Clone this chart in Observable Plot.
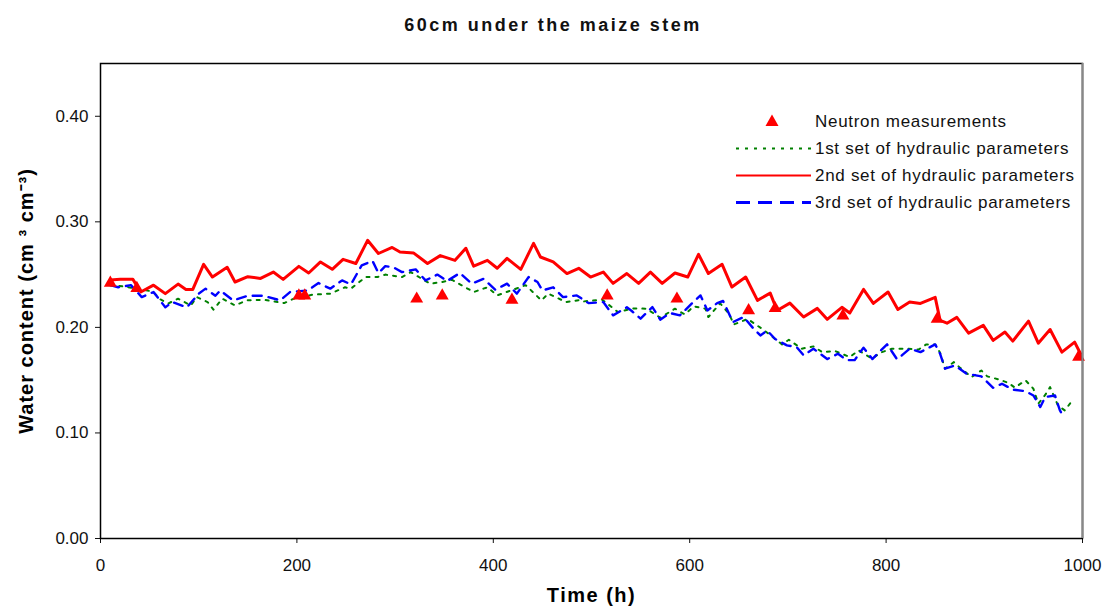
<!DOCTYPE html>
<html><head><meta charset="utf-8">
<script src="https://cdn.jsdelivr.net/npm/d3@7"></script>
<script src="https://cdn.jsdelivr.net/npm/@observablehq/plot@0.6"></script>
<style>
body{margin:0;background:#fff;font-family:Arial,"Liberation Sans",sans-serif;}
#wrap{position:relative;width:1106px;height:612px;overflow:hidden;}
#title{height:50px;line-height:50px;text-align:center;font-weight:bold;font-size:18px;letter-spacing:2.5px;color:#111;}
#legend{position:absolute;left:730px;top:108px;font-size:17px;color:#111;letter-spacing:0.7px;}
#legend .row{position:relative;height:27px;line-height:27px;white-space:nowrap;}
#legend svg{position:absolute;left:0;top:0;}
#legend span{position:absolute;left:85px;top:0;}
g[aria-label="y-axis label"] text{font-weight:bold;font-size:20px;letter-spacing:1px;fill:#000;}
g[aria-label="x-axis label"] text{font-weight:bold;font-size:20px;letter-spacing:1.5px;fill:#000;}
g[aria-label="y-axis tick label"] text, g[aria-label="x-axis tick label"] text{fill:#111;}
</style></head>
<body><div id="wrap"><div id="title">60cm under the maize stem</div><div id="chart"></div>
<div id="legend">
 <div class="row"><svg width="80" height="27"><path d="M42,6.5 L48.5,18 L35.5,18 Z" fill="#ff0000"/></svg><span>Neutron measurements</span></div>
 <div class="row"><svg width="85" height="27"><line x1="6" x2="81" y1="13.5" y2="13.5" stroke="#008000" stroke-width="2" stroke-dasharray="3,6"/></svg><span>1st set of hydraulic parameters</span></div>
 <div class="row"><svg width="85" height="27"><line x1="6" x2="81" y1="13.5" y2="13.5" stroke="#ff0000" stroke-width="2"/></svg><span>2nd set of hydraulic parameters</span></div>
 <div class="row"><svg width="85" height="27"><line x1="6" x2="81" y1="13.5" y2="13.5" stroke="#0000ff" stroke-width="3" stroke-dasharray="14,8"/></svg><span>3rd set of hydraulic parameters</span></div>
</div>
</div>
<script>
// Neutron measurements
const neutronT = [10, 37, 202, 208, 322, 348, 419, 516, 587, 660, 687, 756, 852, 996];
const neutronV = [0.242, 0.237, 0.230, 0.230, 0.227, 0.230, 0.226, 0.230, 0.227, 0.216, 0.218, 0.211, 0.208, 0.172];

// 2nd set of hydraulic parameters (red)
const redT = [10, 20, 33, 41, 54, 66, 79, 87, 94, 105, 114, 129, 137, 150, 163, 176, 186, 202, 212, 224, 236, 247, 260, 272, 283, 297, 305, 319, 333, 346, 361, 372, 380, 394, 404, 414, 428, 441, 448, 461, 475, 487, 499, 512, 522, 536, 548, 560, 572, 585, 598, 609, 619, 633, 643, 657, 669, 682, 689, 702, 716, 730, 740, 755, 763, 777, 787, 802, 812, 824, 835, 850, 855, 862, 872, 884, 899, 909, 921, 929, 945, 955, 967, 979, 992, 998];
const redV = [0.245, 0.2455, 0.2455, 0.2335, 0.240, 0.232, 0.241, 0.236, 0.236, 0.2597, 0.2477, 0.2569, 0.243, 0.248, 0.2464, 0.2524, 0.2455, 0.2578, 0.2515, 0.262, 0.255, 0.2645, 0.2605, 0.2825, 0.270, 0.2757, 0.2714, 0.2704, 0.2605, 0.268, 0.2635, 0.275, 0.258, 0.2635, 0.256, 0.2654, 0.255, 0.2796, 0.2667, 0.262, 0.251, 0.256, 0.2477, 0.2524, 0.2417, 0.251, 0.2417, 0.2524, 0.2417, 0.2515, 0.2477, 0.2692, 0.251, 0.2597, 0.2382, 0.2477, 0.2256, 0.2325, 0.216, 0.223, 0.2098, 0.218, 0.2076, 0.219, 0.2136, 0.236, 0.2227, 0.2335, 0.217, 0.224, 0.2227, 0.2284, 0.2066, 0.204, 0.2095, 0.1946, 0.2019, 0.1877, 0.1956, 0.187, 0.206, 0.185, 0.198, 0.1766, 0.186, 0.175];

// 3rd set of hydraulic parameters (blue)
const blueT = [10, 18, 31, 42, 54, 66, 73, 88, 100, 107, 117, 122, 135, 150, 166, 183, 193, 211, 222, 234, 246, 255, 266, 277, 283, 290, 298, 307, 321, 331, 343, 353, 366, 378, 390, 402, 414, 424, 436, 445, 450, 461, 471, 485, 497, 512, 522, 536, 541, 550, 562, 570, 580, 590, 602, 611, 618, 628, 634, 644, 655, 665, 672, 679, 687, 699, 709, 716, 726, 740, 751, 760, 768, 777, 786, 792, 801, 811, 816, 824, 835, 850, 855, 860, 870, 882, 897, 909, 918, 929, 942, 950, 957, 962, 972, 977, 980];
const blueV = [0.240, 0.238, 0.240, 0.2287, 0.2335, 0.219, 0.224, 0.219, 0.232, 0.2367, 0.230, 0.235, 0.2256, 0.230, 0.230, 0.2256, 0.2335, 0.235, 0.242, 0.2367, 0.2445, 0.2407, 0.2588, 0.263, 0.2515, 0.258, 0.257, 0.2524, 0.255, 0.2445, 0.250, 0.244, 0.2515, 0.2414, 0.246, 0.2357, 0.2414, 0.232, 0.2477, 0.243, 0.235, 0.238, 0.2287, 0.2303, 0.223, 0.224, 0.2114, 0.219, 0.2155, 0.2083, 0.2193, 0.2073, 0.2136, 0.2114, 0.2225, 0.2303, 0.216, 0.223, 0.225, 0.205, 0.2098, 0.1988, 0.1924, 0.197, 0.189, 0.183, 0.1813, 0.1735, 0.1798, 0.170, 0.175, 0.169, 0.169, 0.1808, 0.170, 0.1757, 0.1839, 0.170, 0.1735, 0.1798, 0.1766, 0.1839, 0.175, 0.1609, 0.164, 0.156, 0.1536, 0.1428, 0.1466, 0.141, 0.1396, 0.1355, 0.1245, 0.134, 0.1355, 0.1213, 0.1166];

// 1st set of hydraulic parameters (green)
const greenT = [10, 24, 53, 61, 69, 79, 92, 98, 109, 115, 124, 137, 149, 166, 187, 197, 216, 234, 249, 255, 270, 282, 290, 307, 316, 329, 336, 348, 358, 380, 394, 404, 433, 449, 456, 474, 489, 492, 511, 527, 543, 556, 570, 585, 595, 604, 616, 619, 631, 640, 645, 659, 675, 694, 701, 714, 726, 735, 748, 763, 772, 786, 794, 806, 821, 833, 841, 850, 855, 860, 869, 875, 887, 897, 903, 916, 925, 931, 942, 950, 955, 962, 967, 975, 982, 991];
const greenV = [0.240, 0.2387, 0.234, 0.2265, 0.2227, 0.2272, 0.2208, 0.2287, 0.224, 0.2168, 0.2272, 0.2208, 0.2256, 0.2262, 0.223, 0.2272, 0.231, 0.232, 0.238, 0.2367, 0.2477, 0.2477, 0.250, 0.2477, 0.2524, 0.245, 0.2414, 0.243, 0.245, 0.2335, 0.238, 0.2303, 0.240, 0.2256, 0.232, 0.224, 0.226, 0.2246, 0.2262, 0.2145, 0.218, 0.2177, 0.2092, 0.2177, 0.2123, 0.2199, 0.2177, 0.2098, 0.2227, 0.213, 0.2028, 0.208, 0.1978, 0.1839, 0.1883, 0.1798, 0.182, 0.1766, 0.1776, 0.1719, 0.1782, 0.1703, 0.176, 0.1798, 0.1798, 0.179, 0.1839, 0.1839, 0.176, 0.1609, 0.1671, 0.162, 0.1529, 0.1592, 0.1536, 0.1504, 0.1472, 0.143, 0.1498, 0.1419, 0.1277, 0.136, 0.1434, 0.126, 0.1213, 0.1324];

// Axis ticks
const xTicks = [0, 200, 400, 600, 800, 1000];
const yTicks = [0, 0.1, 0.2, 0.3, 0.4];

const zip = (T, V) => T.map((t, i) => ({t, v: V[i]}));
const red = zip(redT, redV), blue = zip(blueT, blueV), green = zip(greenT, greenV), neutron = zip(neutronT, neutronV);

const chart = Plot.plot({
  width: 1106,
  height: 562,
  marginLeft: 100,
  marginRight: 24,
  marginTop: 13,
  marginBottom: 74,
  style: {fontFamily: "Arial, 'Liberation Sans', sans-serif", fontSize: "17px", color: "#111", background: "#fff"},
  x: {domain: [0, 1000]},
  y: {domain: [0, 0.45]},
  marks: [
    Plot.axisX({ticks: xTicks, tickSize: 5, tickPadding: 15, fontSize: 17, tickFormat: d3.format("d"), label: "Time (h)", labelAnchor: "center", labelArrow: "none", labelOffset: 63}),
    Plot.axisY({ticks: yTicks, tickSize: 5, tickPadding: 7, fontSize: 17, tickFormat: d3.format(".2f"), label: "Water content (cm \u00b3 cm\u207b\u00b3)", labelAnchor: "center", labelArrow: "none", labelOffset: 82}),
    Plot.line(green, {x: "t", y: "v", stroke: "#008000", strokeWidth: 2, strokeDasharray: "3,6"}),
    Plot.line(red, {x: "t", y: "v", stroke: "#ff0000", strokeWidth: 3}),
    Plot.line(blue, {x: "t", y: "v", stroke: "#0000ff", strokeWidth: 2.4, strokeDasharray: "9,7"}),
    Plot.dot(neutron, {x: "t", y: "v", symbol: "triangle", r: 4.8, fill: "#ff0000", stroke: "none"}),
    Plot.frame({stroke: "#000", strokeWidth: 1.5}),
    Plot.ruleX([1000], {stroke: "#888", strokeWidth: 2})
  ]
});
document.getElementById("chart").appendChild(chart);
</script>
</body></html>
